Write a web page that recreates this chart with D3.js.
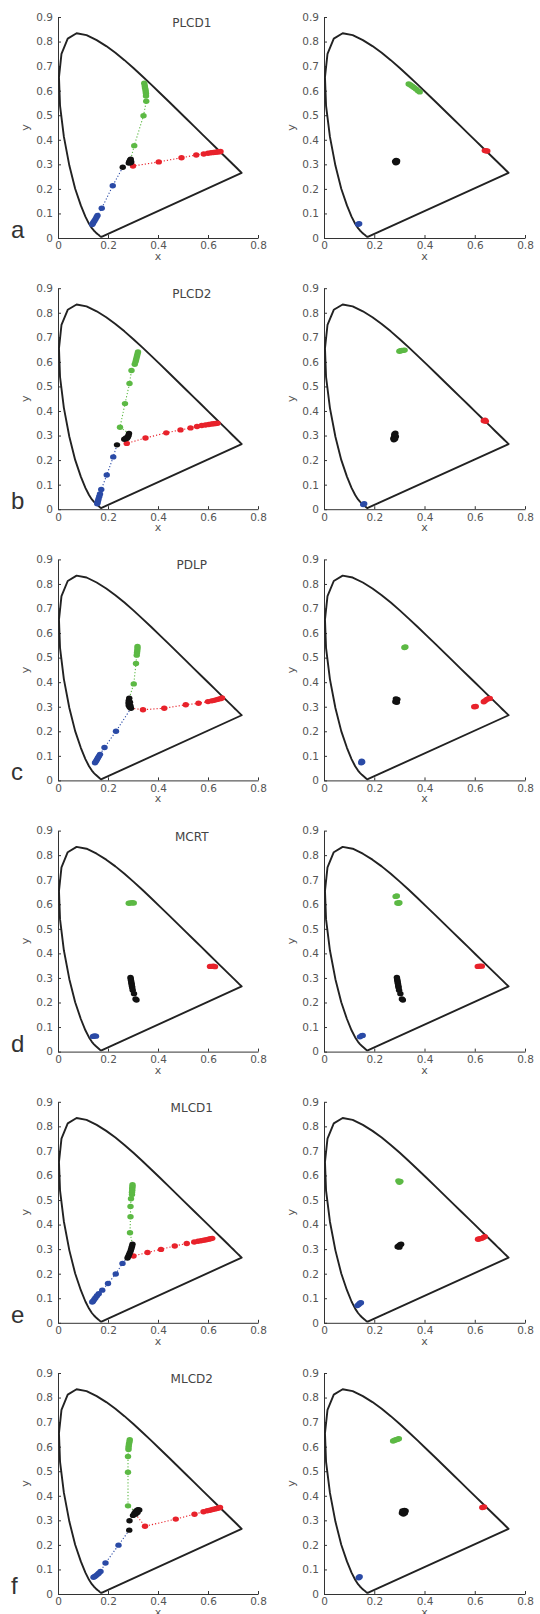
<!DOCTYPE html>
<html>
<head>
<meta charset="utf-8">
<script src="https://cdn.jsdelivr.net/npm/d3@7"></script>
<style>
  body { margin: 0; background: #fff; }
  svg { display: block; }
  .tick text { font-family: "DejaVu Sans", sans-serif; font-size: 10.5px; fill: #555; }
  .axis path, .axis line { stroke: #333; }
</style>
</head>
<body>
<script>
// panel titles and letters
const panelTitles = ["PLCD1", "PLCD2", "PDLP", "MCRT", "MLCD1", "MLCD2"];
const panelLetters = ["a", "b", "c", "d", "e", "f"];
const linkedLeft = [true, true, true, false, true, true];

const xTicks = [0, 0.2, 0.4, 0.6, 0.8];
const yTicks = [0, 0.1, 0.2, 0.3, 0.4, 0.5, 0.6, 0.7, 0.8, 0.9];

// CIE 1931 spectral locus, 380-700 nm
const locusX = [0.1741,0.1740,0.1738,0.1736,0.1733,0.1730,0.1726,0.1721,0.1714,0.1703,0.1689,0.1669,0.1644,0.1611,0.1566,0.1510,0.1440,0.1355,0.1241,0.1096,0.0913,0.0687,0.0454,0.0235,0.0082,0.0039,0.0139,0.0389,0.0743,0.1142,0.1547,0.1929,0.2296,0.2658,0.3016,0.3373,0.3731,0.4087,0.4441,0.4788,0.5125,0.5448,0.5752,0.6029,0.6270,0.6482,0.6658,0.6801,0.6915,0.7006,0.7079,0.7140,0.7190,0.7230,0.7260,0.7283,0.7300,0.7311,0.7320,0.7327,0.7334,0.7340,0.7344,0.7346,0.7347];
const locusY = [0.0050,0.0050,0.0049,0.0049,0.0048,0.0048,0.0048,0.0048,0.0051,0.0058,0.0069,0.0086,0.0109,0.0138,0.0177,0.0227,0.0297,0.0399,0.0578,0.0868,0.1327,0.2007,0.2950,0.4127,0.5384,0.6548,0.7502,0.8120,0.8338,0.8262,0.8059,0.7816,0.7543,0.7243,0.6923,0.6589,0.6245,0.5896,0.5547,0.5202,0.4866,0.4544,0.4242,0.3965,0.3725,0.3514,0.3340,0.3197,0.3083,0.2993,0.2920,0.2859,0.2809,0.2770,0.2740,0.2717,0.2700,0.2689,0.2680,0.2673,0.2666,0.2660,0.2656,0.2654,0.2653];

// left column, one list per panel (a..f)
const greenLeft = [
  [[0.305,0.376],[0.342,0.498],[0.353,0.557],[0.352,0.578],[0.352,0.588],[0.351,0.596],[0.350,0.604],[0.348,0.612],[0.347,0.620],[0.345,0.630]],
  [[0.248,0.334],[0.268,0.430],[0.286,0.512],[0.294,0.565],[0.307,0.590],[0.310,0.600],[0.312,0.608],[0.314,0.616],[0.316,0.624],[0.318,0.632],[0.320,0.640]],
  [[0.303,0.393],[0.312,0.476],[0.315,0.510],[0.316,0.520],[0.317,0.528],[0.318,0.537],[0.318,0.545]],
  [[0.283,0.604],[0.290,0.605],[0.297,0.606],[0.303,0.605]],
  [[0.288,0.367],[0.290,0.432],[0.290,0.474],[0.292,0.505],[0.296,0.522],[0.296,0.532],[0.297,0.540],[0.297,0.548],[0.298,0.555],[0.298,0.562]],
  [[0.280,0.359],[0.280,0.496],[0.280,0.560],[0.282,0.588],[0.282,0.596],[0.283,0.604],[0.284,0.612],[0.286,0.620],[0.287,0.628]]
];
const redLeft = [
  [[0.300,0.293],[0.403,0.310],[0.494,0.327],[0.553,0.338],[0.583,0.342],[0.600,0.345],[0.612,0.347],[0.622,0.348],[0.630,0.349],[0.638,0.350],[0.645,0.351],[0.650,0.352]],
  [[0.275,0.268],[0.350,0.290],[0.433,0.311],[0.490,0.323],[0.530,0.331],[0.556,0.337],[0.575,0.341],[0.590,0.343],[0.603,0.345],[0.614,0.347],[0.623,0.348],[0.631,0.349],[0.638,0.350]],
  [[0.340,0.288],[0.425,0.294],[0.511,0.308],[0.562,0.314],[0.600,0.321],[0.615,0.324],[0.625,0.326],[0.635,0.329],[0.642,0.331],[0.650,0.333],[0.656,0.336]],
  [[0.608,0.347],[0.615,0.347],[0.622,0.348],[0.628,0.346]],
  [[0.302,0.272],[0.358,0.286],[0.412,0.299],[0.467,0.313],[0.515,0.323],[0.545,0.329],[0.560,0.332],[0.572,0.334],[0.583,0.336],[0.593,0.338],[0.602,0.340],[0.610,0.342],[0.617,0.344]],
  [[0.348,0.276],[0.471,0.305],[0.546,0.325],[0.582,0.335],[0.597,0.339],[0.608,0.341],[0.618,0.344],[0.627,0.346],[0.635,0.348],[0.642,0.350],[0.648,0.352]]
];
const blueLeft = [
  [[0.219,0.213],[0.175,0.121],[0.158,0.092],[0.154,0.085],[0.150,0.077],[0.146,0.070],[0.142,0.064],[0.139,0.059],[0.137,0.055]],
  [[0.221,0.213],[0.195,0.139],[0.173,0.080],[0.168,0.062],[0.165,0.052],[0.162,0.042],[0.160,0.034],[0.158,0.027],[0.157,0.022]],
  [[0.232,0.200],[0.186,0.134],[0.168,0.106],[0.164,0.099],[0.160,0.092],[0.156,0.085],[0.152,0.078],[0.148,0.072]],
  [[0.140,0.062],[0.146,0.064],[0.152,0.063]],
  [[0.258,0.242],[0.231,0.199],[0.200,0.160],[0.177,0.133],[0.163,0.118],[0.156,0.110],[0.150,0.102],[0.145,0.095],[0.140,0.088],[0.137,0.085]],
  [[0.242,0.199],[0.190,0.126],[0.170,0.092],[0.163,0.085],[0.158,0.080],[0.152,0.075],[0.147,0.071],[0.142,0.068]]
];
const blackLeft = [
  [[0.259,0.288],[0.283,0.305],[0.285,0.310],[0.287,0.314],[0.289,0.318],[0.291,0.321],[0.293,0.310],[0.290,0.306]],
  [[0.236,0.262],[0.265,0.285],[0.272,0.290],[0.278,0.292],[0.282,0.300],[0.284,0.308],[0.280,0.296],[0.275,0.288]],
  [[0.285,0.335],[0.283,0.325],[0.282,0.315],[0.283,0.305],[0.287,0.298],[0.292,0.294],[0.290,0.303],[0.288,0.318]],
  [[0.290,0.302],[0.291,0.296],[0.292,0.290],[0.293,0.284],[0.294,0.278],[0.295,0.272],[0.296,0.266],[0.297,0.260],[0.299,0.250],[0.304,0.236],[0.310,0.214],[0.314,0.210]],
  [[0.298,0.320],[0.296,0.312],[0.294,0.305],[0.292,0.298],[0.290,0.291],[0.287,0.284],[0.284,0.277],[0.281,0.270],[0.278,0.264]],
  [[0.285,0.260],[0.286,0.298],[0.300,0.320],[0.305,0.328],[0.310,0.335],[0.315,0.340],[0.320,0.343],[0.325,0.342],[0.318,0.332],[0.310,0.325]]
];

// right column
const greenRight = [
  [[0.337,0.627],[0.344,0.623],[0.351,0.618],[0.358,0.613],[0.366,0.607],[0.374,0.600],[0.381,0.595]],
  [[0.300,0.643],[0.305,0.645],[0.310,0.646],[0.316,0.647],[0.321,0.648]],
  [[0.320,0.541],[0.324,0.543]],
  [[0.285,0.632],[0.290,0.634],[0.292,0.605],[0.297,0.604],[0.300,0.606]],
  [[0.296,0.578],[0.300,0.572],[0.304,0.576]],
  [[0.275,0.623],[0.281,0.626],[0.287,0.628],[0.293,0.630],[0.298,0.632]]
];
const redRight = [
  [[0.640,0.356],[0.645,0.355],[0.650,0.354]],
  [[0.636,0.360],[0.641,0.362],[0.644,0.358]],
  [[0.598,0.300],[0.604,0.301],[0.636,0.320],[0.642,0.325],[0.648,0.330],[0.655,0.333],[0.660,0.334]],
  [[0.612,0.347],[0.620,0.348],[0.628,0.348]],
  [[0.613,0.340],[0.620,0.342],[0.628,0.344],[0.635,0.348],[0.640,0.351]],
  [[0.630,0.352],[0.637,0.354]]
];
const blueRight = [
  [[0.136,0.056],[0.140,0.058]],
  [[0.156,0.019],[0.160,0.022]],
  [[0.148,0.072],[0.150,0.078],[0.152,0.075]],
  [[0.143,0.060],[0.150,0.065],[0.154,0.066]],
  [[0.133,0.070],[0.138,0.075],[0.143,0.080],[0.147,0.082]],
  [[0.138,0.066],[0.142,0.070]]
];
const blackRight = [
  [[0.283,0.312],[0.287,0.316],[0.290,0.310],[0.286,0.306],[0.291,0.314]],
  [[0.276,0.288],[0.279,0.295],[0.282,0.302],[0.284,0.309],[0.280,0.305],[0.286,0.296],[0.278,0.283],[0.283,0.287]],
  [[0.284,0.320],[0.288,0.326],[0.292,0.330],[0.286,0.332],[0.290,0.318]],
  [[0.290,0.302],[0.291,0.296],[0.292,0.290],[0.293,0.284],[0.294,0.278],[0.295,0.272],[0.296,0.266],[0.297,0.260],[0.299,0.250],[0.304,0.236],[0.310,0.214],[0.314,0.210]],
  [[0.293,0.310],[0.298,0.314],[0.303,0.318],[0.307,0.320],[0.300,0.308]],
  [[0.310,0.330],[0.315,0.336],[0.320,0.340],[0.325,0.338],[0.322,0.330],[0.316,0.326],[0.312,0.338]]
];

const WIDTH = 540;
const HEIGHT = 1614;
const PLOT_H = 221;
const ROW_TOP = 17;
const ROW_STEP = 271.2;
const COLS = [{left: 58, w: 200}, {left: 324, w: 201}];

const colors = {green: "#5cb944", red: "#e8222b", blue: "#2a4aa6", black: "#111"};

const svg = d3.select("body").append("svg")
    .attr("width", WIDTH)
    .attr("height", HEIGHT);

var translate = function(x, y) {
  return "translate(" + x + "," + y + ")";
};

var fmt = function(d) { return d === 0 ? "0" : d3.format(".1f")(d); };

var drawPanel = function(row, col, series, linked) {
  var c = COLS[col];
  var top = ROW_TOP + row * ROW_STEP;
  var x = d3.scaleLinear().domain([0, 0.8]).range([0, c.w]);
  var y = d3.scaleLinear().domain([0, 0.9]).range([PLOT_H, 0]);
  var g = svg.append("g").attr("transform", translate(c.left, top));

  g.append("g").attr("class", "axis")
      .attr("transform", translate(0, PLOT_H))
      .call(d3.axisBottom(x).tickValues(xTicks).tickFormat(fmt).tickSizeInner(-3).tickSizeOuter(0).tickPadding(4));
  g.append("g").attr("class", "axis")
      .call(d3.axisLeft(y).tickValues(yTicks).tickFormat(fmt).tickSizeInner(-3).tickSizeOuter(0).tickPadding(5));

  g.append("text").text("x")
      .attr("x", x(0.4)).attr("y", PLOT_H + 22)
      .attr("text-anchor", "middle")
      .style("font-family", "DejaVu Sans, sans-serif").style("font-size", "11px").style("fill", "#555");
  g.append("text").text("y")
      .attr("transform", translate(-29, y(0.45)) + " rotate(-90)")
      .attr("text-anchor", "middle")
      .style("font-family", "DejaVu Sans, sans-serif").style("font-size", "11px").style("fill", "#555");

  var locus = locusX.map(function(v, i) { return [v, locusY[i]]; });
  g.append("path")
      .attr("d", d3.line().x(function(d) { return x(d[0]); }).y(function(d) { return y(d[1]); })
          .curve(d3.curveLinearClosed)(locus))
      .attr("fill", "none").attr("stroke", "#222").attr("stroke-width", 1.9)
      .attr("stroke-linejoin", "round");

  var line = d3.line().x(function(d) { return x(d[0]); }).y(function(d) { return y(d[1]); });

  if (linked) {
    ["green", "red", "blue"].forEach(function(k) {
      var pts = series[k];
      // start the dotted line from the nearest grey point
      var start = d3.least(series.black, function(b) {
        return (b[0] - pts[0][0]) ** 2 + (b[1] - pts[0][1]) ** 2;
      });
      g.append("path")
          .attr("d", line([start].concat(pts)))
          .attr("fill", "none").attr("stroke", colors[k])
          .attr("stroke-width", 1.1).attr("stroke-dasharray", "1.2,2");
    });
  }

  ["green", "red", "blue", "black"].forEach(function(k) {
    g.selectAll(".pt-" + k).data(series[k]).enter()
        .append("ellipse")
        .attr("class", "pt-" + k)
        .attr("cx", function(d) { return x(d[0]); })
        .attr("cy", function(d) { return y(d[1]); })
        .attr("rx", 3.2).attr("ry", 2.7)
        .attr("fill", colors[k]);
  });

  if (col === 0) {
    g.append("text").text(panelTitles[row])
        .attr("x", x(0.535)).attr("y", 10)
        .attr("text-anchor", "middle")
        .style("font-family", "DejaVu Sans, sans-serif").style("font-size", "12px").style("fill", "#444");
    svg.append("text").text(panelLetters[row])
        .attr("x", 11).attr("y", top + PLOT_H)
        .style("font-family", "Liberation Sans, Arial, sans-serif").style("font-size", "24px").style("fill", "#333");
  }
};

var loadChart = function() {
  panelTitles.forEach(function(t, i) {
    drawPanel(i, 0, {green: greenLeft[i], red: redLeft[i], blue: blueLeft[i], black: blackLeft[i]}, linkedLeft[i]);
    drawPanel(i, 1, {green: greenRight[i], red: redRight[i], blue: blueRight[i], black: blackRight[i]}, false);
  });
};

loadChart();
</script>
</body>
</html>
